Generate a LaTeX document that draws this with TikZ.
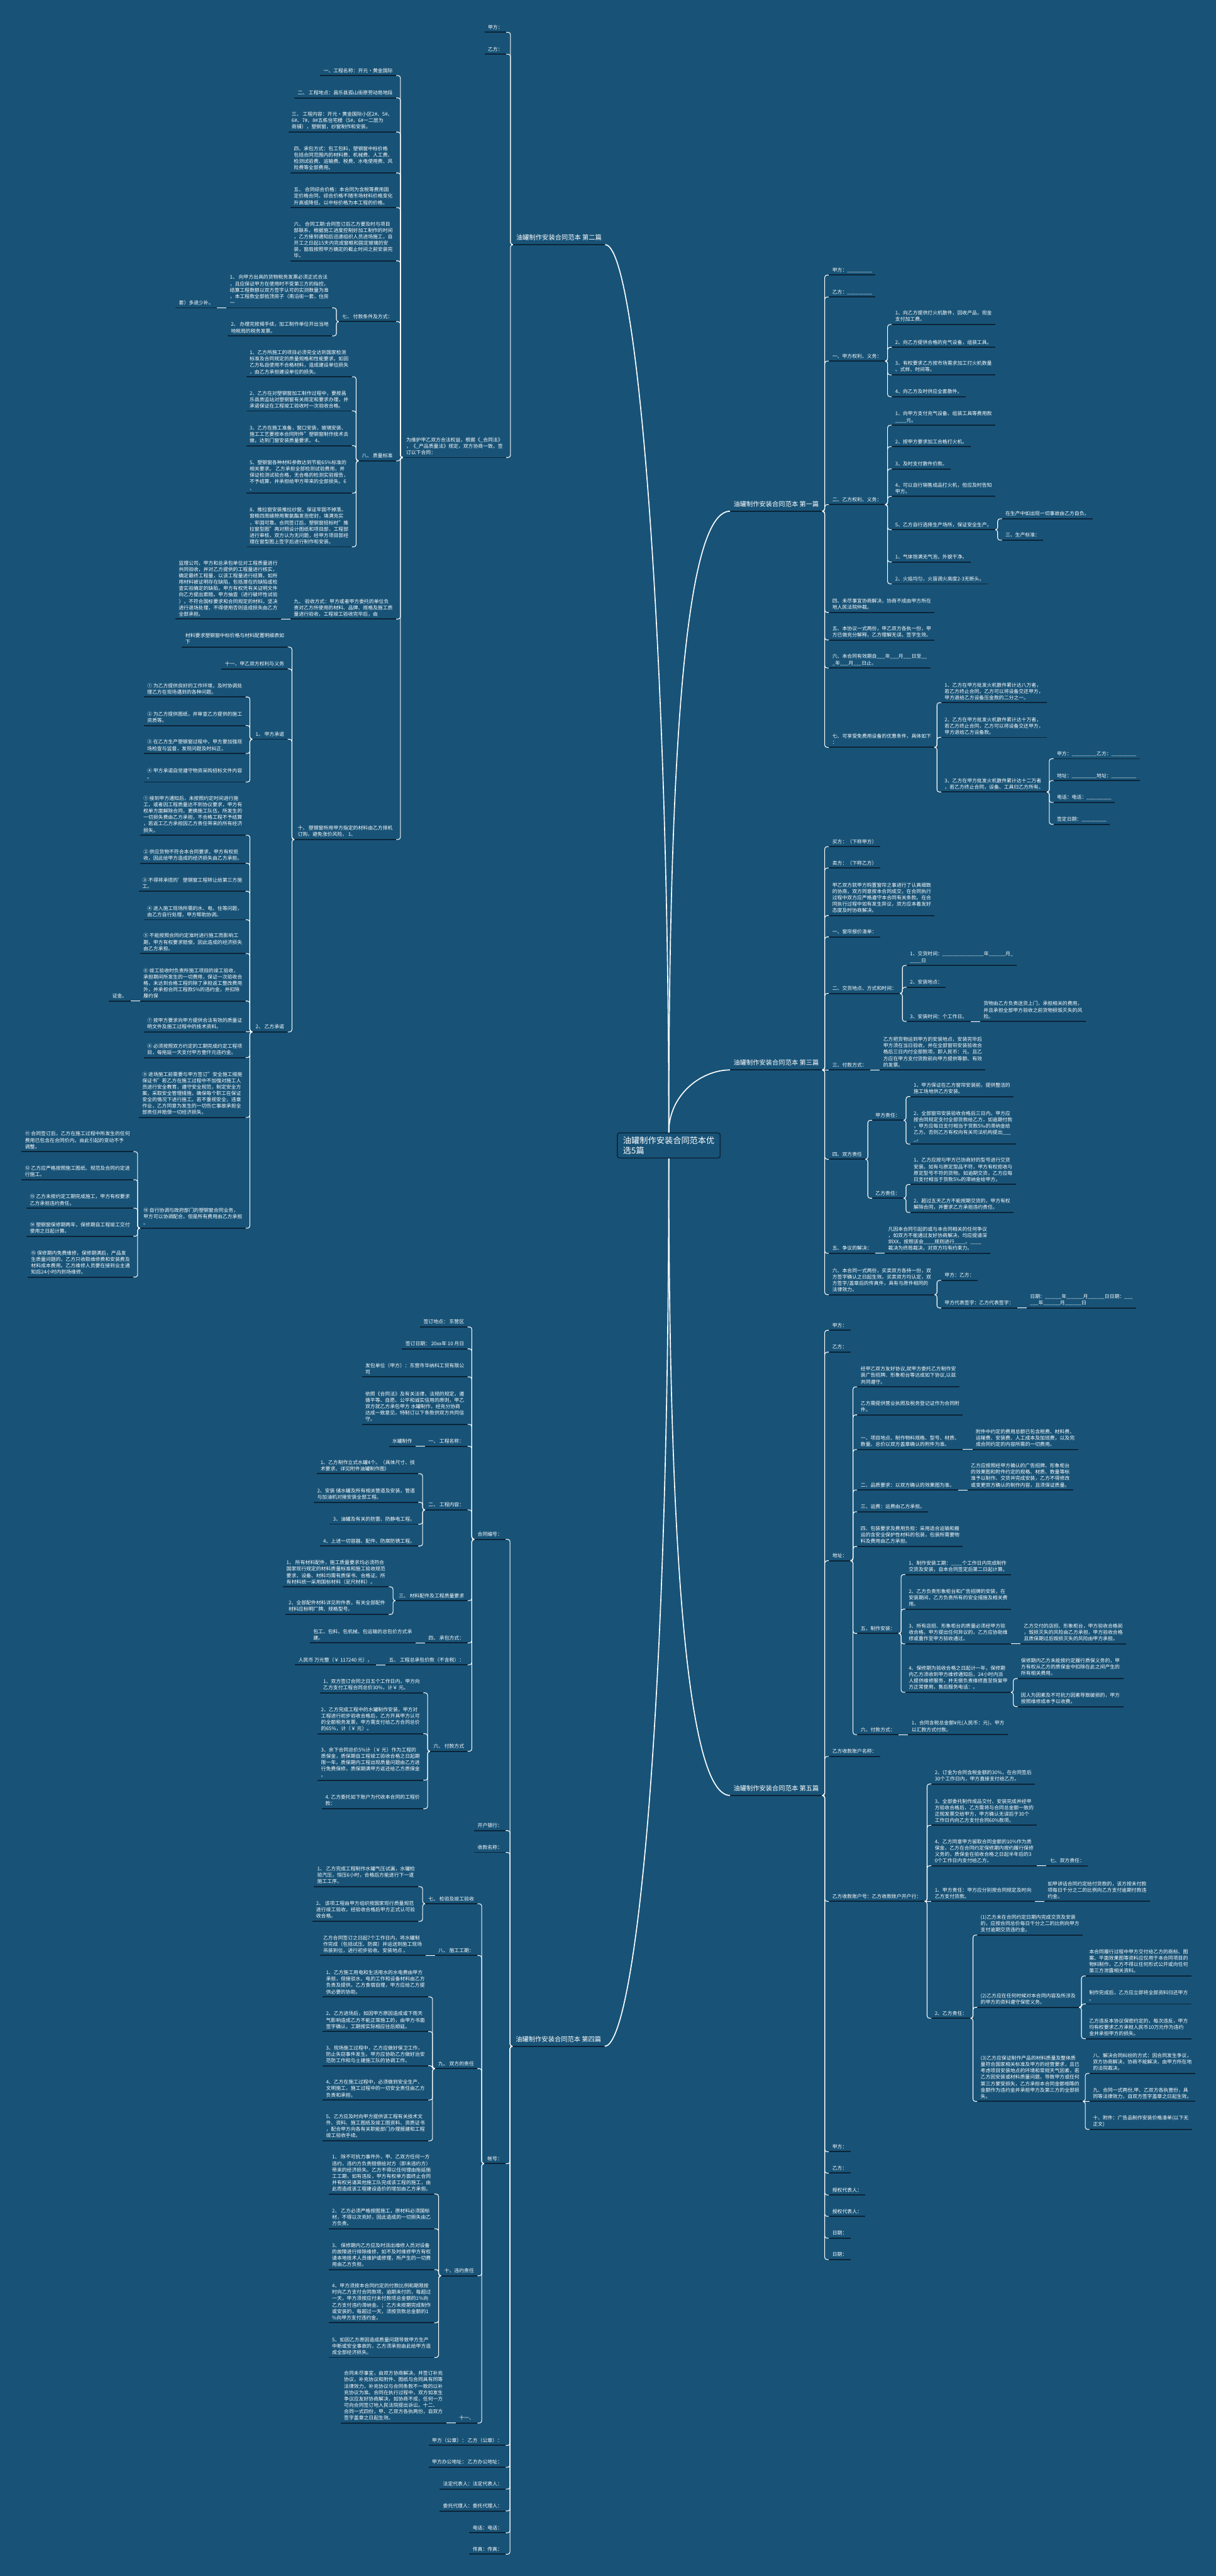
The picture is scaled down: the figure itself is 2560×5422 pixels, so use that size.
\documentclass[tikz,border=0pt]{standalone}
\usepackage{fontspec}
\setmainfont{Noto Sans CJK SC}
\usetikzlibrary{calc}
\definecolor{bg}{RGB}{24,83,119}
\definecolor{ulc}{RGB}{11,36,56}
\newcommand\fsn{\fontsize{10.4pt}{13.4pt}\selectfont}
\newcommand\fsb{\fontsize{13.6pt}{16pt}\selectfont}
\newcommand\fsr{\fontsize{17.5pt}{21pt}\selectfont}
\tikzset{
  tn/.style={font=\fsn, text=white, align=left, inner xsep=7pt, inner ysep=4.5pt, text depth=2pt},
  bn/.style={font=\fsb, text=white, align=left, inner xsep=7pt, inner ysep=7pt, text depth=3pt},
  rootbox/.style={draw=ulc, line width=2pt, fill=bg, rounded corners=5pt, font=\fsr, text=white, align=left, inner xsep=12pt, inner ysep=8pt},
  ul/.style={draw=ulc, line width=2.5pt},
  conn/.style={draw=white, line width=1.4pt, rounded corners=5pt},
  rconn/.style={draw=white, line width=2.2pt}
}
% right-side child via trunk
\newcommand\mR[5][14]{%
  \path (#3.south east) ++(#1,0) coordinate (tmpa) (0,#4) coordinate (tmpb);
  \node[tn,anchor=south west] (#2) at (tmpa |- tmpb) {#5};
  \draw[ul] (#2.south west) -- (#2.south east);
  \draw[conn] (#3.south east) -- ++(5,0) |- (#2.south west);}
% right-side child on the same line
\newcommand\sR[4][20]{%
  \node[tn,anchor=south west] (#2) at ([xshift=#1pt]#3.south east) {#4};
  \draw[ul] (#2.south west) -- (#2.south east);
  \draw[conn] (#3.south east) -- (#2.south west);}
% left-side child via trunk
\newcommand\mL[5][14]{%
  \path (#3.south west) ++(-#1,0) coordinate (tmpa) (0,#4) coordinate (tmpb);
  \node[tn,anchor=south east] (#2) at (tmpa |- tmpb) {#5};
  \draw[ul] (#2.south west) -- (#2.south east);
  \draw[conn] (#3.south west) -- ++(-5,0) |- (#2.south east);}
% left-side child on the same line
\newcommand\sL[4][20]{%
  \node[tn,anchor=south east] (#2) at ([xshift=-#1pt]#3.south west) {#4};
  \draw[ul] (#2.south west) -- (#2.south east);
  \draw[conn] (#3.south west) -- (#2.south east);}
\begin{document}
\begin{tikzpicture}[x=1pt,y=-1pt]
\path[use as bounding box] (0,0) rectangle (2560,5422);
\fill[bg] (0,0) rectangle (2560,5422);

% root and branches
\node[rootbox] (root) at (1408,2411) {油罐制作安装合同范本优\\选5篇};
\node[bn,anchor=south west] (b1) at (1537,1076) {油罐制作安装合同范本 第一篇};
\node[bn,anchor=south west] (b3) at (1537,2252) {油罐制作安装合同范本 第三篇};
\node[bn,anchor=south west] (b5) at (1537,3779) {油罐制作安装合同范本 第五篇};
\node[bn,anchor=south east] (b2) at (1274,515) {油罐制作安装合同范本 第二篇};
\node[bn,anchor=south east] (b4) at (1273,4307) {油罐制作安装合同范本 第四篇};
\foreach \b in {b1,b2,b3,b4,b5} \draw[ul] (\b.south west) -- (\b.south east);
\draw[rconn] (root.north) .. controls +(0,-880) and +(-87,0) .. (b1.south west);
\draw[rconn] (root.north) .. controls +(0,-80) and +(-60,0) .. (b3.south west);
\draw[rconn] (root.south) .. controls +(0,860) and +(-87,0) .. (b5.south west);
\draw[rconn] (root.north) .. controls +(0,-1000) and +(70,0) .. (b2.south east);
\draw[rconn] (root.south) .. controls +(0,1250) and +(60,0) .. (b4.south east);

% ===== 第一篇 =====
\mR{a1}{b1}{579}{甲方：\_\_\_\_\_\_\_\_\_}
\mR{a2}{b1}{625}{乙方：\_\_\_\_\_\_\_\_\_}
\mR{a3}{b1}{760}{一、甲方权利、义务：}
 \mR{a3a}{a3}{683}{1、向乙方提供打火机散件，回收产品，现金\\支付加工费。}
 \mR{a3b}{a3}{731}{2、向乙方提供合格的充气设备，组装工具。}
 \mR{a3c}{a3}{789}{3、有权要求乙方按市场需求加工打火机数量\\、式样、时间等。}
 \mR{a3d}{a3}{835}{4、向乙方及时供应全套散件。}
\mR{a4}{b1}{1062}{二、乙方权利、义务：}
 \mR{a4a}{a4}{895}{1、向甲方支付充气设备、组装工具等费用款\\\_\_\_\_元。}
 \mR{a4b}{a4}{940}{2、按甲方要求加工合格打火机。}
 \mR{a4c}{a4}{987}{3、及时支付散件价款。}
 \mR{a4d}{a4}{1045}{4、可以自行销售成品打火机，但应及时告知\\甲方。}
 \mR{a4e}{a4}{1115}{5、乙方自行选择生产场所，保证安全生产。}
  \mR{a4e1}{a4e}{1092}{在生产中如出现一切事故由乙方自负。}
  \mR{a4e2}{a4e}{1137}{三、生产标准：}
 \mR{a4f}{a4}{1183}{1、气体饱满无气泡，外貌干净。}
 \mR{a4g}{a4}{1229}{2、火焰均匀，火苗调火高度2-3无断头。}
\mR{a5}{b1}{1289}{四、未尽事宜协商解决，协商不成由甲方所在\\地人民法院仲裁。}
\mR{a6}{b1}{1347}{五、本协议一式两份，甲乙双方各执一份，甲\\方已做充分解释，乙方理解无误，签字生效。}
\mR{a7}{b1}{1406}{六、本合同有效期自\_\_\_年\_\_\_月\_\_\_日至\_\_\\\_年\_\_\_月\_\_\_日止。}
\mR{a8}{b1}{1573}{七、可享受免费用设备的优惠条件，具体如下\\：}
 \mR{a8a}{a8}{1479}{1、乙方在甲方批发火机散件累计达八万者，\\若乙方终止合同，乙方可以将设备交还甲方，\\甲方退给乙方设备压金款的二分之一。}
 \mR{a8b}{a8}{1552}{2、乙方在甲方批发火机散件累计达十万者，\\若乙方终止合同，乙方可以将设备交还甲方，\\甲方退给乙方设备款。}
 \mR{a8c}{a8}{1667}{3、乙方在甲方批发火机散件累计达十二万者\\，若乙方终止合同，设备、工具归乙方所有。}
  \mR{a8c1}{a8c}{1597}{甲方：\_\_\_\_\_\_\_\_\_乙方：\_\_\_\_\_\_\_\_\_}
  \mR{a8c2}{a8c}{1643}{地址：\_\_\_\_\_\_\_\_\_地址：\_\_\_\_\_\_\_\_\_}
  \mR{a8c3}{a8c}{1689}{电话：电话：\_\_\_\_\_\_\_\_\_}
  \mR{a8c4}{a8c}{1735}{签定日期：\_\_\_\_\_\_\_\_\_}

% ===== 第三篇 =====
\mR{c1}{b3}{1782}{买方：（下称甲方）}
\mR{c2}{b3}{1827}{卖方：（下称乙方）}
\mR{c3}{b3}{1927}{甲乙双方就甲方购置窗帘之事进行了认真细致\\的协商，双方同意按本合同成交，在合同执行\\过程中双方应严格遵守本合同有关条款。在合\\同执行过程中如有发生异议，双方应本着友好\\态度及时协商解决。}
\mR{c4}{b3}{1972}{一、窗帘报价清单：}
\mR{c5}{b3}{2091}{二、交货地点、方式和时间：}
 \mR{c5a}{c5}{2032}{1、交货时间：\_\_\_\_\_\_\_\_\_\_\_\_\_\_\_年\_\_\_\_\_\_月\_\\\_\_\_\_日}
 \mR{c5b}{c5}{2078}{2、安装地点：}
 \mR{c5c}{c5}{2150}{3、安装时间：个工作日。}
  \sR{c5c1}{c5c}{货物由乙方负责送货上门，承担相关的费用，\\并且承担全部甲方验收之前货物损毁灭失的风\\险。}
\sR[14]{c6}{b3}{三、付款方式：}
 \sR{c6a}{c6}{乙方把货物运到甲方的安装地点，安装完毕后\\甲方须在当日验收，并在全部窗帘安装验收合\\格后三日内付全部款项，即人民币：元。且乙\\方应在甲方支付货款前向甲方提供等额、有效\\的发票。}
\mR{c7}{b3}{2440}{四、双方责任}
 \mR{c7a}{c7}{2358}{甲方责任：}
  \mR{c7a1}{c7a}{2308}{1、甲方保证在乙方窗帘安装前，提供整洁的\\施工场地供乙方安装。}
  \mR{c7a2}{c7a}{2408}{2、全部窗帘安装验收合格后三日内，甲方应\\按合同规定支付全部货款给乙方，如逾期付款\\，甲方应每日支付相当于货款5‰的滞纳金给\\乙方。否则乙方有权向有关司法机构提出\_\_\_\\\_。}
 \mR{c7b}{c7}{2522}{乙方责任：}
  \mR{c7b1}{c7b}{2493}{1、乙方应按与甲方已协商好的型号进行交货\\安装。如有与原定型品不符，甲方有权拒收与\\原定型号不符的货物。如逾期交货，乙方应每\\日支付相当于货款5‰的滞纳金给甲方。}
  \mR{c7b2}{c7b}{2552}{2、超过五天乙方不能按期交货的，甲方有权\\解除合同，并要求乙方承担违约责任。}
\mR{c8}{b3}{2638}{五、争议的解决：}
 \sR{c8a}{c8}{凡因本合同引起的或与本合同相关的任何争议\\，如双方不能通过友好协商解决，均应提请深\\圳XX，按照该会\_\_\_\_规则进行\_\_\_\_。\_\_\_\_\\裁决为终局裁决，对双方均有约束力。}
\mR{c9}{b3}{2725}{六、本合同一式两份，买卖双方各持一份，双\\方签字确认之日起生效。买卖双方均认定，双\\方签字/盖章后的传真件，具有与原件相同的\\法律效力。}
 \mR{c9a}{c9}{2695}{甲方：乙方：}
 \mR{c9b}{c9}{2753}{甲方代表签字：乙方代表签字：}
  \sR{c9b1}{c9b}{日期：\_\_\_\_\_\_年\_\_\_\_\_\_月\_\_\_\_\_\_日日期：\_\_\_\\\_\_\_年\_\_\_\_\_\_月\_\_\_\_\_\_日}

% ===== 第五篇 =====
\mR{e1}{b5}{2800}{甲方：}
\mR{e2}{b5}{2846}{乙方：}
\mR{e3}{b5}{3285}{地址：}
 \mR{e3a}{e3}{2919}{经甲乙双方友好协议,就甲方委托乙方制作安\\装广告招牌、形象柜台等达成如下协议,以兹\\共同遵守。}
 \mR{e3b}{e3}{2978}{乙方需提供营业执照及税务登记证作为合同附\\件。}
 \mR{e3c}{e3}{3051}{一、项目地点、制作物料规格、型号、材质、\\数量、总价以双方盖章确认的附件为准。}
  \sR{e3c1}{e3c}{附件中约定的费用总额已包含税费、材料费、\\运输费、安装费、人工成本及加班费，以及完\\成合同约定的内容所需的一切费用。}
 \mR{e3d}{e3}{3136}{二、品质要求：以双方确认的效果图为准。}
  \sR{e3d1}{e3d}{乙方应按照经甲方确认的广告招牌、形象柜台\\的效果图和附件约定的规格、材质、数量等标\\准予以制作、交货并完成安装，乙方不得修改\\或变更双方确认的制作内容，且须保证质量。}
 \mR{e3e}{e3}{3182}{三、运费：运费由乙方承担。}
 \mR{e3f}{e3}{3255}{四、包装要求及费用负担：采用适合运输和搬\\运的含安全保护性材料的包装，包装所需要物\\料及费用由乙方承担。}
 \mR{e3g}{e3}{3438}{五、制作安装：}
  \mR{e3g1}{e3g}{3314}{1、制作安装工期：\_\_\_\_个工作日内完成制作\\交货及安装，自本合同签定后第二日起计算。}
  \mR{e3g2}{e3g}{3387}{2、乙方负责形象柜台和广告招牌的安装，在\\安装期间，乙方负责所有的安全措施及相关费\\用。}
  \mR{e3g3}{e3g}{3460}{3、所有店招、形象柜台的质量必须经甲方验\\收合格，甲方提出任何异议的，乙方应协助维\\修或重作至甲方验收通过。}
   \sR{e3g3a}{e3g3}{乙方交付的店招、形象柜台，甲方验收合格前\\，毁损灭失的风险由乙方承担，甲方验收合格\\且质保期过后毁损灭失的风险由甲方承担。}
  \mR{e3g4}{e3g}{3562}{4、保修期为验收合格之日起计一年，保修期\\内乙方须收到甲方维修通知后，24小时内派\\人提供维修服务，并无偿负责维修直至恢复甲\\方正常使用，售后服务电话：。}
   \mR{e3g4a}{e3g4}{3533}{保修期内乙方未能按约定履行质保义务的，甲\\方有权从乙方的质保金中扣除在此之间产生的\\所有相关费用。}
   \mR{e3g4b}{e3g4}{3592}{因人为因素及不可抗力因素导致破损的，甲方\\按照维修成本予以收费。}
 \mR{e3h}{e3}{3651}{六、付款方式：}
  \sR{e3h1}{e3h}{1、合同含税总金额¥元(人民币：元)，甲方\\以汇款方式付款。}
\mR{e4}{b5}{3697}{乙方收款账户名称：}
\mR{e5}{b5}{4002}{乙方收款账户号：乙方收款账户开户行：}
 \mR{e5a}{e5}{3755}{2、订金为合同含税金额的30\%，在合同签后\\30个工作日内，甲方直接支付给乙方。}
 \mR{e5b}{e5}{3842}{3、全部委托制作成品交付、安装完成并经甲\\方验收合格后，乙方需将与合同总金额一致的\\正规发票交给甲方，甲方确认无误后于30个\\工作日内向乙方支付合同60\%款项。}
 \mR{e5c}{e5}{3927}{4、乙方同意甲方留取合同金额的10\%作为质\\保金，乙方在合同约定保修期内按约履行保修\\义务的，质保金在验收合格之日起半年后的3\\0个工作日内支付给乙方。}
  \sR{e5c1}{e5c}{七、双方责任：}
 \sR[14]{e5d}{e5}{1、甲方责任：甲方应分别按合同规定及时向\\乙方支付货款。}
  \sR{e5d1}{e5d}{如甲讲话合同约定给付货款的，该方按未付款\\项每日千分之二的比例向乙方支付逾期付款违\\约金。}
 \mR{e5e}{e5}{4248}{2、乙方责任：}
  \mR{e5e1}{e5e}{4073}{(1)乙方未在合同约定日期内完成交货及安装\\的，应按合同总价每日千分之二的比例向甲方\\支付逾期交货违约金。}
  \mR{e5e2}{e5e}{4225}{(2)乙方应在任何时候对本合同内容及所涉及\\的甲方的资料遵守保密义务。}
   \mR{e5e2a}{e5e2}{4159}{本合同履行过程中甲方交付给乙方的商标、图\\案、平面效果图等资料应仅用于本合同项目的\\物料制作，乙方不得以任何形式公开或向任何\\第三方泄露相关资料。}
   \mR{e5e2b}{e5e2}{4218}{制作完成后，乙方应立即将全部资料归还甲方\\。}
   \mR{e5e2c}{e5e2}{4291}{乙方违反本协议保密约定的，每次违反，甲方\\均有权要求乙方承担人民币10万元作为违约\\金并承担甲方的损失。}
  \mR{e5e3}{e5e}{4423}{(3)乙方应保证制作产品的材料质量及整体质\\量符合国家相关标准及甲方的经营要求，且已\\考虑项目安装地点的环境和常规天气因素，若\\乙方因安装或材料质量问题，导致甲方或任何\\第三方蒙受损失，乙方承担本合同金额相等的\\金额作为违约金并承担甲方及第三方的全部损\\失。}
   \mR{e5e3a}{e5e3}{4364}{八、解决合同纠纷的方式：因合同发生争议，\\双方协商解决，协商不能解决，由甲方所在地\\的法院裁决。}
   \sR[14]{e5e3b}{e5e3}{九、合同一式两份,甲、乙双方各执壹份，具\\同等法律效力，自双方签字盖章之日起生效。}
   \mR{e5e3c}{e5e3}{4482}{十、附件：广告品制作安装价格清单(以下无\\正文)}
\mR{e6}{b5}{4529}{甲方：}
\mR{e7}{b5}{4574}{乙方：}
\mR{e8}{b5}{4620}{授权代表人：}
\mR{e9}{b5}{4665}{授权代表人：}
\mR{e10}{b5}{4711}{日期：}
\mR{e11}{b5}{4756}{日期：}

% ===== 第二篇 =====
\mL{d1}{b2}{68}{甲方：}
\mL{d2}{b2}{114}{乙方：}
\mL{d3}{b2}{963}{为维护甲乙双方合法权益，根据《\_合同法》\\，《\_产品质量法》规定，双方协商一致，签\\订以下合同：}
 \mL{d3a}{d3}{159}{一、工程名称：开元·黄金国际}
 \mL{d3b}{d3}{206}{二、 工程地点：昌乐县孤山街原劳动局地段}
 \mL{d3c}{d3}{278}{三、 工程内容：开元·黄金国际小区2\#、5\#、\\6\#、7\#、8\#五栋住宅楼（5\#，6\#一二层为\\商铺），塑钢窗，纱窗制作和安装。}
 \mL{d3d}{d3}{364}{四、承包方式：包工包料，塑钢窗中标价格\\包括合同范围内的材料费、机械费、人工费、\\检测试验费、运输费、税费、水电使用费、风\\险费等全部费用。}
 \mL{d3e}{d3}{437}{五、 合同综合价格：本合同为含税等费用固\\定价格合同，综合价格不随市场材料价格变化\\升高或降低，以中标价格为本工程的价格。}
 \mL{d3f}{d3}{549}{六、 合同工期:合同签订后乙方要及时与项目\\部联系，根据施工进度控制好加工制作的时间\\，乙方接到通知后迅速组织人员进场施工，自\\开工之日起15天内完成窗框和固定玻璃的安\\装，窗扇按照甲方确定的截止时间之前安装完\\毕。}
 \mL{d3g}{d3}{677}{七、 付款条件及方式：}
  \mL{d3g1}{d3g}{648}{1、 向甲方出具的货物税务发票必须正式合法\\，且应保证甲方在使用时不受第三方的指控，\\结算工程数额以双方签字认可的实测数量为准\\，本工程款全部抵顶房子（南沿街一套，住房\\一}
   \sL{d3g1a}{d3g1}{套）多退少补。}
  \mL{d3g2}{d3g}{707}{2、 办理完按揭手续，加工制作单位开出当地\\地税局的税务发票。}
 \mL{d3h}{d3}{970}{八、 质量标准}
  \mL{d3h1}{d3h}{793}{1、乙方所施工的项目必须完全达到国家检测\\标准及合同规定的质量规格和性能要求。如因\\乙方私自使用不合格材料，造成建设单位损失\\，由乙方承担建设单位的损失。}
  \mL{d3h2}{d3h}{865}{2、乙方在对塑钢窗加工制作过程中，要按昌\\乐县质监站对塑钢窗有关规定和要求办理，并\\承诺保证在工程竣工验收时一次验收合格。}
  \mL{d3h3}{d3h}{938}{3、乙方在施工准备，窗口安装，玻璃安装、\\施工工艺要按本合同附件"塑钢窗制作技术去\\做，达到门窗安装质量要求。 4、}
  \mL{d3h4}{d3h}{1038}{5、塑钢窗各种材料参数达到节能65\%标准的\\相关要求。 乙方承担全部检测试验费用，并\\保证检测试验合格，无合格的检测实验报告，\\不予结算，并承担给甲方带来的全部损失。6\\、}
  \mL{d3h5}{d3h}{1151}{8、推拉窗安装推拉纱窗，保证牢固不掉落。\\ 窗框四周缝隙用聚氨酯发泡密封，填满充实\\，牢固可靠。合同签订后，塑钢窗招标时"推\\拉窗型图"再对照设计图纸和项目部，工程部\\进行审核，双方认为无问题，经甲方项目部经\\理在窗型图上签字后进行制作和安装。}
 \mL{d3i}{d3}{1303}{九、 验收方式：甲方或者甲方委托的单位负\\责对乙方所使用的材料、品牌、规格及施工质\\量进行验收，工程竣工验收完毕后，由}
  \sL{d3i1}{d3i}{监理公司，甲方和总承包单位对工程质量进行\\共同验收，并对乙方提供的工程量进行核实，\\确定最终工程量，以该工程量进行结算。如所\\用材料被证明存在缺陷，包括潜在的缺陷或检\\查实验确定的缺陷，甲方有权凭有关证明文件\\向乙方提出索赔。甲方抽查（进行破坏性试验\\），不符合国标要求和合同规定的材料，坚决\\进行退场处理，不得使用否则造成损失由乙方\\全部承担。}
 \mL{d3j}{d3}{1767}{十、 塑钢窗所用甲方指定的材料由乙方择机\\订购，避免涨价风险， 1、}
  \mL{d3j1}{d3j}{1362}{材料要求塑钢窗中标价格与材料配置明细表如\\下}
  \mL{d3j2}{d3j}{1408}{十一、甲乙双方权利与义务}
  \mL{d3j3}{d3j}{1556}{1、 甲方承诺}
   \mL{d3j3a}{d3j3}{1467}{① 为乙方提供良好的工作环境，及时协调处\\理乙方在现场遇到的各种问题。}
   \mL{d3j3b}{d3j3}{1527}{② 为乙方提供图纸，并审查乙方提供的施工\\资质等。}
   \mL{d3j3c}{d3j3}{1586}{③ 在乙方生产塑钢窗过程中，甲方要加强现\\场检查与监督，发现问题及时纠正。}
   \mL{d3j3d}{d3j3}{1646}{④ 甲方承诺自觉遵守物资采购招标文件内容\\。}
  \mL{d3j4}{d3j}{2172}{2、 乙方承诺}
   \mL{d3j4a}{d3j4}{1758}{① 接到甲方通知后，未按照约定时间进行施\\工，或者因工程质量达不到协议要求，甲方有\\权单方面解除合同，更换施工队伍，所发生的\\一切损失费由乙方承担，不合格工程不予结算\\，若返工乙方承担因乙方责任带来的所有经济\\损失。}
   \mL{d3j4b}{d3j4}{1817}{② 供应货物不符合本合同要求，甲方有权拒\\收，因此给甲方造成的经济损失由乙方承担。}
   \mL{d3j4c}{d3j4}{1876}{③ 不得将承揽的'塑钢窗工程转让给第三方施\\工。}
   \mL{d3j4d}{d3j4}{1936}{④ 进入施工现场所需的水、电、住等问题，\\由乙方自行处理，甲方帮助协调。}
   \mL{d3j4e}{d3j4}{2007}{⑤ 不能按照合同约定准时进行施工而影响工\\期，甲方有权要求赔偿，因此造成的经济损失\\由乙方承担。}
   \mL{d3j4f}{d3j4}{2107}{⑥ 竣工验收时负责所施工项目的竣工验收，\\承担期间所发生的一切费用，保证一次验收合\\格，未达到合格工程的除了承担返工整改费用\\外，并承担合同工程款5\%的违约金，并扣除\\履约保}
    \sL{d3j4f1}{d3j4f}{证金。}
   \sL[14]{d3j4g}{d3j4}{⑦ 按甲方要求向甲方提供合法有效的质量证\\明文件及施工过程中的技术资料。}
   \mL{d3j4h}{d3j4}{2226}{⑧ 必须按照双方约定的工期完成约定工程项\\目，每拖延一天支付甲方壹仟元违约金。}
   \mL{d3j4i}{d3j4}{2352}{⑨ 进场施工前需要与甲方签订"安全施工措施\\保证书"若乙方在施工过程中不加强对施工人\\员进行安全教育，遵守安全规范，制定安全方\\案，采取安全管理措施，确保每个职工在保证\\安全的情况下进行施工。若不重视安全，违章\\作业，乙方同意为发生的一切伤亡事故承担全\\部责任并赔偿一切经济损失。}
   \mL{d3j4j}{d3j4}{2585}{⑩ 自行协调与政府部门的塑钢窗合同业务，\\甲方可以协调配合，但是所有费用由乙方承担\\。}
    \mL{k1}{d3j4j}{2424}{⑪ 合同签订后，乙方在施工过程中所发生的任何\\费用已包含在合同价内，由此引起的变动不予\\调整。}
    \mL{k2}{d3j4j}{2483}{⑫ 乙方应严格按照施工图纸、规范及合同约定进\\行施工。}
    \mL{k3}{d3j4j}{2543}{⑬ 乙方未按约定工期完成施工，甲方有权要求\\乙方承担违约责任。}
    \mL{k4}{d3j4j}{2602}{⑭ 塑钢窗保修期两年，保修期自工程竣工交付\\使用之日起计算。}
    \mL{k5}{d3j4j}{2688}{⑮ 保修期内免费维修，保修期满后，产品发\\生质量问题的，乙方只收取维修费和安装费及\\材料成本费用。乙方维修人员要在接到业主通\\知后24小时内到场维修。}

% ===== 第四篇 =====
\mL{f1}{b4}{3240}{合同编号：}
 \mL{f1a}{f1}{2793}{签订地点： 东营区}
 \mL{f1b}{f1}{2839}{签订日期： 20xx年 10 月日}
 \mL{f1c}{f1}{2898}{发包单位（甲方）：东营市华纳科工贸有限公\\司}
 \mL{f1d}{f1}{2998}{依照《合同法》及有关法律、法规的规定，遵\\循平等、自愿、公平和诚实信用的原则，甲乙\\双方就乙方承包甲方 水罐制作，经充分协商\\达成一致意见，特制订以下条款供双方共同信\\守。}
 \mL{f1e}{f1}{3044}{一、 工程名称：}
  \sL{f1e1}{f1e}{水罐制作}
 \mL{f1f}{f1}{3178}{二、 工程内容：}
  \mL{f1f1}{f1f}{3102}{1、乙方制作立式水罐4个。（具体尺寸、技\\术要求、详见附件油罐制作图）}
  \mL{f1f2}{f1f}{3162}{2、安装 储水罐及所有相关管道及安装，管道\\与加油机对接安装全部工程。}
  \mL{f1f3}{f1f}{3208}{3、油罐及有关的防雷、防静电工程。}
  \mL{f1f4}{f1f}{3254}{4、上述一切容器、配件、防腐防锈工程。}
 \mL{f1g}{f1}{3369}{三、 材料配件及工程质量要求}
  \mL{f1g1}{f1g}{3340}{1、 所有材料配件，施工质量要求均必须符合\\国家现行规定的材料质量标准和施工验收规范\\要求，设备、材料均需有质保书、合格证。所\\有材料统一采用国标材料（足尺材料）。}
  \mL{f1g2}{f1g}{3398}{2、全部配件材料详见附件表，有关全部配件\\材料应标明厂牌、规格型号。}
 \mL{f1h}{f1}{3458}{四、 承包方式：}
  \sL{f1h1}{f1h}{包工、包料、包机械、包运输的总包价方式承\\建。}
 \mL{f1i}{f1}{3504}{五、 工程总承包价款（不含税）：}
  \sL{f1i1}{f1i}{人民币 万元整（￥ 117240 元）。}
 \mL{f1j}{f1}{3686}{六、 付款方式}
  \mL{f1j1}{f1j}{3563}{1、双方签订合同之日五个工作日内，甲方向\\乙方支付工程合同总价30\%，计￥ 元。}
  \mL{f1j2}{f1j}{3649}{2、乙方完成工程中的水罐制作安装，甲方对\\工程进行初步验收合格后，乙方开具甲方认可\\的全额税务发票，甲方需支付给乙方合同总价\\的65\%，计（￥ 元）。}
  \mL{f1j3}{f1j}{3747}{3、余下合同总价5\%计（￥ 元）作为工程的\\质保金，质保期自工程竣工验收合格之日起期\\限一年。质保期内工程出现质量问题由乙方进\\行免费保修，质保期满甲方返还给乙方质保金\\。}
  \mL{f1j4}{f1j}{3807}{4. 乙方委托如下账户为代收本合同的工程价\\款：}
\mL{f2}{b4}{3853}{开户银行：}
\mL{f3}{b4}{3899}{收款名称：}
\mL{f4}{b4}{4554}{帐号：}
 \mL{f4a}{f4}{4007}{七、 检验及竣工验收}
  \mL{f4a1}{f4a}{3971}{1、 乙方完成工程制作水罐气压试漏，水罐检\\验汽压，恒压6小时，合格后方能进行下一道\\施工工序。}
  \mL{f4a2}{f4a}{4044}{2、 该项工程由甲方组织按国家现行质量规范\\进行竣工验收，经验收合格后甲方正式认可验\\收合格。}
 \mL{f4b}{f4}{4116}{八、 施工工期：}
  \sL{f4b1}{f4b}{乙方合同签订之日起7个工作日内，将水罐制\\作完成（包括试压、防腐）并运送到施工现场\\吊装到位，进行初步验收。安装地点 。}
 \mL{f4c}{f4}{4354}{九、 双方的责任}
  \mL{f4c1}{f4c}{4203}{1、乙方施工用电和生活用水的水电费由甲方\\承担，但接驳水、电的工作和设备材料由乙方\\负责及提供。乙方食宿自理，甲方应给乙方提\\供必要的协助。}
  \mL{f4c2}{f4c}{4276}{2、乙方进场后，如因甲方原因造成或下雨天\\气影响造成乙方不能正常施工的，由甲方书面\\签字确认，工期按实际相应往后顺延。}
  \mL{f4c3}{f4c}{4348}{3、现场施工过程中，乙方应做好保卫工作，\\防止失窃事件发生。甲方应协助乙方做好治安\\范防工作和与土建施工队的协调工作。}
  \mL{f4c4}{f4c}{4420}{4、乙方在施工过程中，必须做到安全生产、\\文明施工，施工过程中的一切安全责任由乙方\\负责和承担。}
  \mL{f4c5}{f4c}{4506}{5、乙方应及时向甲方提供该工程有关技术文\\件、资料、施工图纸及竣工图资料、资质证书\\，配合甲方向各有关职能部门办理报建和工程\\竣工验收手续。}
 \mL{f4d}{f4}{4790}{十、违约责任}
  \mL{f4d1}{f4d}{4618}{1、 除不可抗力事件外，甲、乙双方任何一方\\违约，违约方负责赔偿给对方（即未违约方）\\带来的经济损失。乙方不得以任何理由拖延施\\工工期，如有违反，甲方有权单方面终止合同\\并有权另请其他施工队完成该工程的施工，由\\此而造成该工程建设造价的增加由乙方承担。}
  \mL{f4d2}{f4d}{4691}{2、 乙方必须严格按图施工，原材料必须国标\\材，不得以次充好。因此造成的一切损失由乙\\方负责。}
  \mL{f4d3}{f4d}{4777}{3、 保修期内乙方应及时派出维修人员对设备\\的故障进行排除维修，如不及时维修甲方有权\\请本地技术人员维护或修理，所产生的一切费\\用由乙方负担。}
  \mL{f4d4}{f4d}{4889}{4、甲方须按本合同约定的付款比例和期限按\\时向乙方支付合同款项，逾期未付的，每超过\\一天，甲方须按应付未付款项总金额的1\%向\\乙方支付违约滞纳金。；乙方未按期完成制作\\或安装的，每超过一天，须按货款总金额的1\\\%向甲方支付违约金。}
  \mL{f4d5}{f4d}{4962}{5、如因乙方原因造成质量问题导致甲方生产\\中断或安全事故的，乙方须承担由此给甲方造\\成全部经济损失。}
 \mL{f4e}{f4}{5100}{十一、}
  \sL{f4e1}{f4e}{合同未尽事宜，由双方协商解决，并签订补充\\协议，补充协议和附件、图纸与合同具有同等\\法律效力，补充协议与合同条款不一致的以补\\充协议为准。合同在执行过程中，双方如发生\\争议应友好协商解决，如协商不成，任何一方\\可向合同签订地人民法院提出诉讼。十二、\\合同一式四份，甲、乙双方各执两份，自双方\\签字盖章之日起生效。}
\mL{f5}{b4}{5147}{甲方（公章）： 乙方（公章）：}
\mL{f6}{b4}{5193}{甲方办公地址： 乙方办公地址：}
\mL{f7}{b4}{5239}{法定代表人：法定代表人：}
\mL{f8}{b4}{5285}{委托代理人：委托代理人：}
\mL{f9}{b4}{5331}{电话：电话：}
\mL{f10}{b4}{5376}{传真：传真：}
\end{tikzpicture}
\end{document}
